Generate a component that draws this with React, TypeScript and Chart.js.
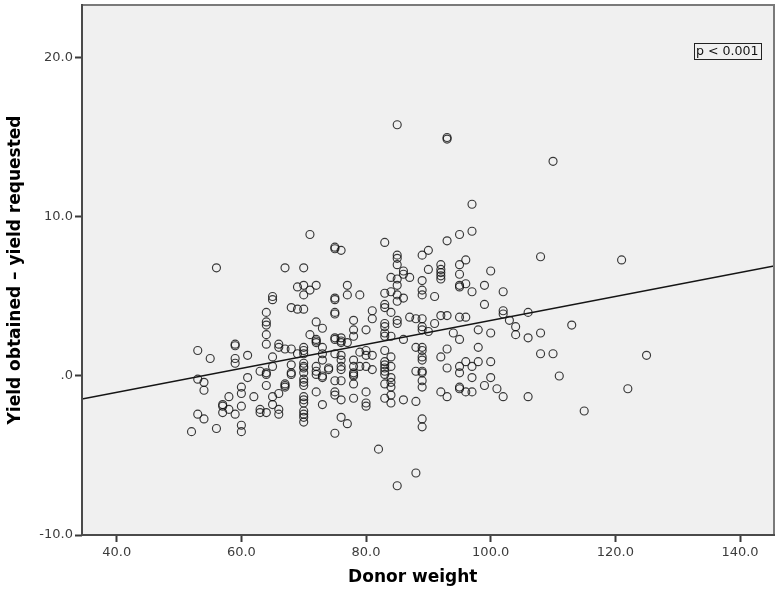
import React, { useEffect, useRef } from 'react';
import { Chart, registerables } from 'chart.js';

Chart.register(...registerables);

// Donor weight (kg) and yield obtained - yield requested
const observations: [number, number][] = [
  // high outliers
  [85, 15.8], [93, 15.0], [93, 14.9], [110, 13.5], [97, 10.8], [71, 8.9], [56, 6.8],
  [75, 8.1], [75, 8.0], [76, 7.9], [83, 8.4], [97, 9.1], [95, 8.9], [93, 8.5],
  [85, 7.6], [85, 7.4], [89, 7.6], [90, 7.9], [96, 7.3], [95, 7.0], [100, 6.6],
  [85, 7.0], [86, 6.6], [86, 6.4], [87, 6.2], [84, 6.2], [85, 6.1], [90, 6.7], [89, 6.0],
  [92, 7.0], [92, 6.7], [92, 6.5], [92, 6.3], [92, 6.1], [95, 6.4], [96, 5.8], [95, 5.7],
  [95, 5.6], [99, 5.7], [102, 5.3], [97, 5.3], [83, 5.2], [84, 5.3], [85, 5.7], [85, 5.1],
  [89, 5.4], [89, 5.1], [77, 5.7], [77, 5.1], [79, 5.1], [75, 4.9], [91, 5.0], [86, 4.9],
  [108, 7.5], [121, 7.3],
  // upper left cluster
  [67, 6.8], [70, 6.8], [69, 5.6], [70, 5.7], [71, 5.4], [72, 5.7], [70, 5.1], [65, 5.0],
  [65, 4.8], [75, 4.8], [68, 4.3], [69, 4.2], [70, 4.2], [75, 4.0], [64, 4.0], [64, 3.4],
  [64, 3.2], [64, 2.6], [64, 2.0], [72, 3.4], [73, 3.0], [71, 2.6], [72, 2.2], [73, 1.8],
  [78, 3.5], [78, 2.9], [78, 2.5], [76, 2.4], [76, 2.2], [75, 2.4], [72, 2.3], [72, 2.1],
  [75, 2.3], [75, 3.9],
  // middle left
  [53, 1.6], [55, 1.1], [59, 2.0], [59, 1.9], [59, 1.1], [59, 0.8], [61, 1.3], [65, 1.2],
  [66, 2.0], [66, 1.8], [67, 1.7], [68, 1.7], [69, 1.4], [70, 1.8], [70, 1.6], [70, 1.4],
  [73, 1.4], [73, 1.0], [63, 0.3], [64, 0.2], [64, 0.1], [61, -0.1], [65, 0.6], [68, 0.7],
  [68, 0.2], [68, 0.1], [70, 0.8], [70, 0.6], [70, 0.5], [70, 0.2], [70, -0.2], [70, -0.4],
  [70, -0.6], [72, 0.6], [72, 0.3], [72, 0.1], [73, 0.0], [73, -0.1], [74, 0.5], [75, -0.3],
  [76, 0.6], [76, -0.3], [78, 1.0], [78, 0.6], [78, 0.2], [60, -0.7], [58, -1.3], [60, -1.1],
  [62, -1.3], [64, -0.6], [66, -1.1], [67, -0.6], [67, -0.5], [67, -0.7], [72, -1.0],
  [75, -1.0], [75, -1.2],
  // lower left
  [53, -0.2], [54, -0.4], [54, -0.9], [53, -2.4], [54, -2.7], [52, -3.5], [56, -3.3],
  [57, -1.8], [57, -1.9], [58, -2.1], [57, -2.3], [59, -2.4], [60, -1.9], [60, -3.1],
  [60, -3.5], [63, -2.1], [63, -2.3], [64, -2.3], [65, -1.3], [65, -1.8], [66, -2.1],
  [66, -2.4], [70, -1.3], [70, -1.5], [70, -1.7], [70, -2.2], [70, -2.4], [70, -2.6],
  [70, -2.9], [73, -1.8], [75, -3.6], [76, -2.6], [77, -3.0], [76, -1.5], [78, -1.4],
  [82, -4.6], [88, -6.1], [85, -6.9],
  // centre
  [81, 4.1], [81, 3.6], [83, 4.5], [83, 4.3], [85, 4.7], [84, 4.0], [80, 2.9], [83, 3.3],
  [83, 3.1], [83, 2.7], [83, 2.5], [84, 2.5], [85, 3.5], [85, 3.3], [86, 2.3], [87, 3.7],
  [88, 3.6], [89, 3.6], [89, 3.1], [89, 2.9], [90, 2.8], [91, 3.3], [92, 3.8], [93, 3.8],
  [95, 3.7], [96, 3.7], [94, 2.7], [95, 2.3], [98, 2.9], [100, 2.7], [99, 4.5], [102, 4.1],
  [102, 3.9], [103, 3.5], [104, 3.1], [104, 2.6], [106, 2.4], [106, 4.0], [76, 2.1],
  [75, 1.4], [76, 1.3], [76, 1.0], [76, 0.4], [74, 0.4], [78, 0.0], [78, 0.1], [78, -0.5],
  [79, 1.5], [80, 1.6], [81, 1.3], [80, 1.3], [79, 0.6], [80, 0.6], [81, 0.4], [80, -1.0],
  [80, -1.7], [80, -1.9], [83, 1.6], [83, 0.9], [83, 0.7], [83, 0.5], [83, 0.3], [83, 0.1],
  [83, -0.5], [83, -1.4], [84, 1.2], [84, 0.6], [84, -0.1], [84, -0.4], [84, -0.7],
  [84, -1.2], [84, -1.7], [86, -1.5], [88, -1.6], [88, 0.3], [89, 1.8], [89, 1.6], [89, 1.2],
  [89, 1.0], [89, 0.3], [89, 0.2], [89, -0.3], [89, -0.7], [89, -2.7], [89, -3.2], [88, 1.8],
  [92, 1.2], [92, -1.0], [93, 1.7], [93, 0.5], [93, -1.3], [95, 0.6], [95, 0.2], [95, -0.7],
  [95, -0.8], [96, 0.9], [96, -1.0], [97, 0.6], [97, -0.1], [97, -1.0], [98, 0.9], [98, 1.8],
  [99, -0.6], [100, -0.1], [100, 0.9], [101, -0.8], [102, -1.3], [106, -1.3], [77, 2.1],
  // right
  [108, 2.7], [113, 3.2], [108, 1.4], [110, 1.4], [111, 0.0], [125, 1.3], [122, -0.8],
  [115, -2.2],
];

// Fit line end points (at the plot edges)
const fitLineX = [34.43, 145.45];
const fitLineY = [-1.45, 6.92];

const xRange = [34.43, 145.45];
const yRange = [-10, 23.33];
const xTicks = [40, 60, 80, 100, 120, 140];
const xTickLabels = ['40.0', '60.0', '80.0', '100.0', '120.0', '140.0'];
const yTicks = [-10, 0, 10, 20];
const yTickLabels = ['-10.0', '.0', '10.0', '20.0'];
const xAxisTitle = 'Donor weight';
const yAxisTitle = 'Yield obtained \u2013 yield requested';
const pLabel = 'p < 0.001';

const FONT = "'DejaVu Sans', Verdana, sans-serif";

const framePlugin = {
  id: 'spssFrame',
  beforeDraw(chart: any) {
    const { ctx, chartArea: a } = chart;
    ctx.save();
    ctx.fillStyle = '#f0f0f0';
    ctx.fillRect(a.left, a.top, a.right - a.left, a.bottom - a.top);
    ctx.restore();
  },
  afterDraw(chart: any) {
    const { ctx, chartArea: a } = chart;
    ctx.save();
    // top and right frame
    ctx.strokeStyle = '#7a7a7a';
    ctx.lineWidth = 2;
    ctx.beginPath();
    ctx.moveTo(a.left, a.top);
    ctx.lineTo(a.right, a.top);
    ctx.lineTo(a.right, a.bottom);
    ctx.stroke();
    // axes
    ctx.strokeStyle = '#4a4a4a';
    ctx.beginPath();
    ctx.moveTo(a.left, a.top - 1);
    ctx.lineTo(a.left, a.bottom);
    ctx.lineTo(a.right + 1, a.bottom);
    ctx.stroke();

    // p-value box
    ctx.font = `12.6px ${FONT}`;
    ctx.textBaseline = 'middle';
    ctx.textAlign = 'left';
    const w = ctx.measureText(pLabel).width;
    const boxRight = a.right - 13;
    const boxTop = a.top + 38;
    const bw = w + 4;
    const bh = 16;
    ctx.strokeStyle = '#222';
    ctx.lineWidth = 1;
    ctx.strokeRect(Math.round(boxRight - bw) + 0.5, boxTop + 0.5, Math.round(bw), bh);
    ctx.fillStyle = '#111';
    ctx.fillText(pLabel, Math.round(boxRight - bw) + 2, boxTop + bh / 2 + 1);

    // x axis title
    ctx.font = `bold 17px ${FONT}`;
    ctx.textAlign = 'center';
    ctx.textBaseline = 'middle';
    ctx.fillStyle = '#000';
    ctx.fillText(xAxisTitle, a.left + (a.right - a.left) * 0.478, a.bottom + 43);
    ctx.restore();
  },
};

export default function App() {
  const ref = useRef<HTMLCanvasElement | null>(null);

  useEffect(() => {
    if (!ref.current) return;
    const tickFont = { family: FONT, size: 13 };
    const chart = new Chart(ref.current, {
      type: 'scatter',
      data: {
        datasets: [
          {
            type: 'scatter',
            label: 'Donors',
            data: observations.map(([x, y]) => ({ x, y })),
            pointRadius: 4,
            pointHoverRadius: 4,
            pointBorderWidth: 1.15,
            pointBorderColor: 'rgba(15,15,15,0.82)',
            pointBackgroundColor: 'rgba(0,0,0,0)',
            order: 2,
          },
          {
            type: 'line',
            label: 'Fit',
            data: fitLineX.map((x, i) => ({ x, y: fitLineY[i] })),
            borderColor: '#151515',
            borderWidth: 1.5,
            pointRadius: 0,
            fill: false,
            order: 1,
          } as any,
        ],
      },
      options: {
        responsive: false,
        animation: false,
        events: [],
        layout: { autoPadding: false, padding: { top: 5, right: 1, left: 0, bottom: 0 } },
        plugins: {
          legend: { display: false },
          tooltip: { enabled: false },
          title: { display: false },
        },
        scales: {
          x: {
            type: 'linear',
            min: xRange[0],
            max: xRange[1],
            afterBuildTicks: (s: any) => {
              s.ticks = xTicks.map((v) => ({ value: v }));
            },
            afterFit: (s: any) => {
              s.height = 55;
              s.paddingLeft = 0;
              s.paddingRight = 0;
            },
            border: { display: false },
            grid: {
              drawOnChartArea: false,
              drawTicks: true,
              tickLength: 7,
              tickColor: '#3a3a3a',
              tickWidth: 2,
            },
            ticks: {
              autoSkip: false,
              maxRotation: 0,
              padding: 3,
              color: '#3c3c3c',
              font: tickFont,
              callback: (v: any) => xTickLabels[xTicks.indexOf(Number(v))] ?? '',
            },
            title: { display: false },
          },
          y: {
            type: 'linear',
            min: yRange[0],
            max: yRange[1],
            afterBuildTicks: (s: any) => {
              s.ticks = yTicks.map((v) => ({ value: v }));
            },
            afterFit: (s: any) => {
              s.width = 82;
              s.paddingTop = 0;
              s.paddingBottom = 0;
            },
            border: { display: false },
            grid: {
              drawOnChartArea: false,
              drawTicks: true,
              tickLength: 7,
              tickColor: '#3a3a3a',
              tickWidth: 2,
            },
            ticks: {
              autoSkip: false,
              padding: 2,
              color: '#3c3c3c',
              font: tickFont,
              callback: (v: any) => yTickLabels[yTicks.indexOf(Number(v))] ?? '',
            },
            title: {
              display: true,
              text: yAxisTitle,
              color: '#000',
              font: { family: FONT, size: 17, weight: 'bold' },
              padding: { top: 5, bottom: 0 },
            },
          },
        },
      },
      plugins: [framePlugin],
    } as any);
    return () => chart.destroy();
  }, []);

  return (
    <div style={{ position: 'absolute', left: 0, top: 0, width: 775, height: 590, background: '#fff' }}>
      <canvas ref={ref} width={775} height={590} style={{ display: 'block' }} />
    </div>
  );
}
